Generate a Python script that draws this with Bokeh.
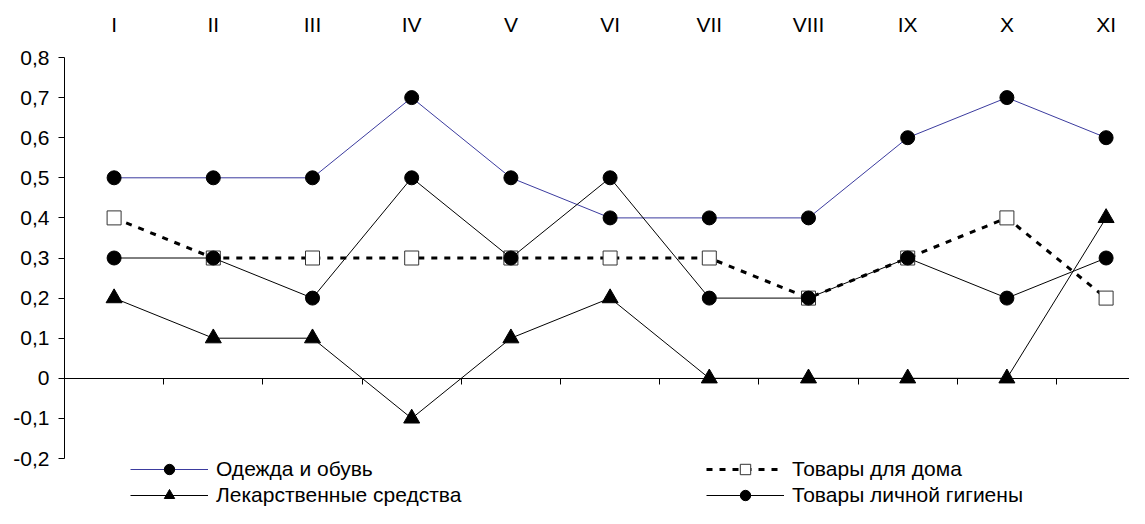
from bokeh.plotting import figure
from bokeh.models import Range1d, LinearAxis, FixedTicker, Legend, LegendItem
from bokeh.embed import file_html
from bokeh.resources import INLINE

months = ["I", "II", "III", "IV", "V", "VI", "VII", "VIII", "IX", "X", "XI"]
clothing = [0.5, 0.5, 0.5, 0.7, 0.5, 0.4, 0.4, 0.4, 0.6, 0.7, 0.6]
home = [0.4, 0.3, 0.3, 0.3, 0.3, 0.3, 0.3, 0.2, 0.3, 0.4, 0.2]
medicine = [0.2, 0.1, 0.1, -0.1, 0.1, 0.2, 0.0, 0.0, 0.0, 0.0, 0.4]
hygiene = [0.3, 0.3, 0.2, 0.5, 0.3, 0.5, 0.2, 0.2, 0.3, 0.2, 0.3]
y_ticks = [-0.2, -0.1, 0.0, 0.1, 0.2, 0.3, 0.4, 0.5, 0.6, 0.7, 0.8]
y_tick_labels = ["-0,2", "-0,1", "0", "0,1", "0,2", "0,3", "0,4", "0,5", "0,6", "0,7", "0,8"]
series_names = ["Одежда и обувь", "Товары для дома", "Лекарственные средства", "Товары личной гигиены"]

FONT = "Liberation Sans"
FS = "21px"

x = [i + 0.5 for i in range(len(months))]

# frame: top at 57px (0.8), -0.2 at 458px, frame continues to figure bottom (508px) for the legend
px_per_unit = (458 - 57) / 1.0
y_start = -0.2 - (508 - 458) / px_per_unit

p = figure(width=1129, height=508, output_backend="svg", toolbar_location=None,
           x_axis_location=None, y_axis_location=None,
           x_range=Range1d(0, (1129 - 64) / 99.2), y_range=Range1d(y_start, 0.8),
           min_border_left=64, min_border_right=0, min_border_top=57, min_border_bottom=0)
p.outline_line_color = None
p.xgrid.visible = False
p.ygrid.visible = False
p.background_fill_color = "white"
p.border_fill_color = "white"

# y axis
yax = LinearAxis(ticker=FixedTicker(ticks=y_ticks, minor_ticks=[]), bounds=(-0.2, 0.8))
yax.major_label_overrides = {t: l for t, l in zip(y_ticks, y_tick_labels)}
yax.major_label_text_font = FONT
yax.major_label_text_font_size = FS
yax.major_label_text_color = "black"
yax.major_tick_out = 6
yax.major_tick_in = 0
yax.major_label_standoff = 9
yax.axis_line_color = "black"
yax.major_tick_line_color = "black"
p.add_layout(yax, "left")

# top category labels
tax = LinearAxis(ticker=FixedTicker(ticks=x, minor_ticks=[]))
tax.major_label_overrides = {xx: m for xx, m in zip(x, months)}
tax.major_label_text_font = FONT
tax.major_label_text_font_size = FS
tax.major_label_text_color = "black"
tax.axis_line_color = None
tax.major_tick_line_color = None
tax.major_tick_out = 0
tax.major_tick_in = 0
tax.major_label_standoff = 22
p.add_layout(tax, "above")

# zero axis with category boundary ticks (pointing down)
bax = LinearAxis(ticker=FixedTicker(ticks=list(range(1, len(months))), minor_ticks=[]),
                 fixed_location=0)
bax.major_label_text_font_size = "0px"
bax.major_label_text_color = None
bax.major_tick_out = 0
bax.major_tick_in = 6
bax.major_label_standoff = 0
bax.axis_line_color = "black"
bax.major_tick_line_color = "black"
p.add_layout(bax, "above")

# series
l1 = p.line(x, clothing, line_color="#3b3b9e", line_width=1)
m1 = p.scatter(x, clothing, marker="circle", size=14, fill_color="black", line_color="black")

l2 = p.line(x, home, line_color="black", line_width=3, line_dash="6 7")
m2 = p.scatter(x, home, marker="square", size=14, fill_color="white", line_color="#333333", line_width=1)

l3 = p.line(x, medicine, line_color="black", line_width=1)
m3 = p.scatter(x, medicine, marker="triangle", size=16, fill_color="black", line_color="black")

l4 = p.line(x, hygiene, line_color="black", line_width=1)
m4 = p.scatter(x, hygiene, marker="circle", size=14, fill_color="black", line_color="black")

items = [
    LegendItem(label=series_names[0], renderers=[l1, m1]),
    LegendItem(label=series_names[1], renderers=[l2, m2]),
    LegendItem(label=series_names[2], renderers=[l3, m3]),
    LegendItem(label=series_names[3], renderers=[l4, m4]),
]
legend = Legend(items=items, location=(66, 0), orientation="horizontal", ncols=2,
                glyph_width=78, glyph_height=26, label_height=26, label_width=490,
                label_standoff=8, spacing=0, padding=0, margin=0,
                border_line_color=None, background_fill_alpha=0,
                label_text_font=FONT, label_text_font_size=FS, label_text_color="black")
p.add_layout(legend, "center")

open("out.html", "w").write(file_html(p, INLINE))
